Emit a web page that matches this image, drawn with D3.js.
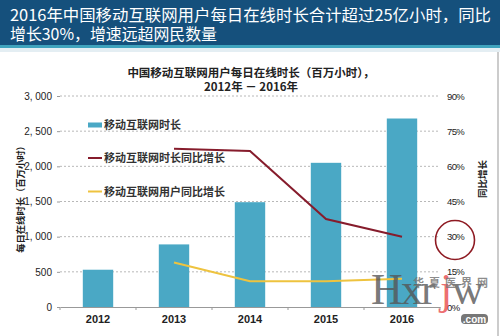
<!DOCTYPE html>
<html><head><meta charset="utf-8">
<script src="https://cdn.jsdelivr.net/npm/d3@7"></script>
<style>body{margin:0;background:#fff}svg{display:block}</style>
</head><body>
<script>
const years = ["2012","2013","2014","2015","2016"];
const hours = [530, 890, 1490, 2050, 2680];
const hoursGrowth = [null, 67.5, 66.5, 37.5, 30];
const usersGrowth = [null, 19, 11, 11, 12];
const leftTicks = [0, 500, 1000, 1500, 2000, 2500, 3000];
const rightTicks = [0, 15, 30, 45, 60, 75, 90];
const seriesNames = ["移动互联网时长", "移动互联网时长同比增长", "移动互联网用户同比增长"];
const headline = ["2016年中国移动互联网用户每日在线时长合计超过25亿小时，同比", "增长30%，增速远超网民数量"];
const chartTitle = ["中国移动互联网用户每日在线时长（百万小时），", "2012年 －  2016年"];

const W = 500, H = 336;
const cjk = "'Noto Sans CJK SC', 'Liberation Sans', sans-serif";
const lat = "'Liberation Sans', Arial, sans-serif";
const svg = d3.select("body").append("svg").attr("width", W).attr("height", H);

// header band
svg.append("rect").attr("x",0).attr("y",0).attr("width",W).attr("height",45).attr("fill","#15507c");
svg.append("rect").attr("x",0).attr("y",45).attr("width",W).attr("height",3).attr("fill","#3fa3bd");
svg.append("rect").attr("x",0).attr("y",48).attr("width",W).attr("height",4).attr("fill","#e4eef3");
svg.selectAll("text.hl").data(headline).join("text").attr("class","hl")
  .attr("x", 10).attr("y", (d,i)=>21 + i*19)
  .attr("fill","#fff").attr("font-family",cjk).attr("font-size",16)
  .attr("textLength",(d,i)=>i===0?481:207).attr("lengthAdjust","spacingAndGlyphs").text(d=>d);
svg.append("line").attr("x1",498).attr("x2",498).attr("y1",52).attr("y2",H).attr("stroke","#999");

const m = {l:60, r:440, t:96, b:307};
const x = d3.scaleBand().domain(years).range([m.l, m.r]).paddingInner(0.6).paddingOuter(0.3);
const y = d3.scaleLinear().domain([0,3000]).range([m.b, m.t]);
const y2 = d3.scaleLinear().domain([0,90]).range([m.b, m.t]);

// chart title
svg.selectAll("text.ct").data(chartTitle).join("text").attr("class","ct")
  .attr("x", 251).attr("y",(d,i)=>77 + i*14).attr("text-anchor","middle")
  .attr("font-family",cjk).attr("font-weight","bold").attr("font-size",11.5).attr("fill","#222").text(d=>d);

// gridlines
svg.append("g").selectAll("line").data(leftTicks.filter(d=>d>0)).join("line")
  .attr("x1",m.l).attr("x2",m.r).attr("y1",d=>y(d)).attr("y2",d=>y(d))
  .attr("stroke","#b8b8b8").attr("stroke-dasharray","2,2");

// left axis
const la = svg.append("g").attr("transform",`translate(${m.l},0)`)
  .call(d3.axisLeft(y).tickValues(leftTicks).tickSize(3).tickFormat(d=>d3.format(",")(d).replace(",", ", ")));
la.select(".domain").remove();
la.selectAll("line").attr("stroke","#999");
la.selectAll("text").attr("font-family",lat).attr("font-size",10).attr("fill","#222").attr("x",-8);

// right axis
const ra = svg.append("g").attr("transform",`translate(${m.r},0)`)
  .call(d3.axisRight(y2).tickValues(rightTicks).tickSize(0).tickFormat(d=>d+"%"));
ra.select(".domain").remove();
ra.selectAll("text").attr("font-family",lat).attr("font-size",9.5).attr("letter-spacing",-0.6).attr("fill","#222").attr("x",7);

// bars
svg.append("g").selectAll("rect").data(years).join("rect")
  .attr("x",d=>x(d)).attr("width",x.bandwidth())
  .attr("y",(d,i)=>y(hours[i])).attr("height",(d,i)=>y(0)-y(hours[i]))
  .attr("fill","#4aa8c5");

// x axis
const xa = svg.append("g").attr("transform",`translate(0,${m.b})`)
  .call(d3.axisBottom(x).tickSize(0).tickPadding(8));
xa.select(".domain").attr("stroke","#999");
xa.selectAll("text").attr("font-family",lat).attr("font-weight","bold").attr("font-size",11).attr("fill","#222");
const step = x.step();
svg.append("g").selectAll("line").data(d3.range(years.length+1)).join("line")
  .attr("x1",i=>m.l+i*step).attr("x2",i=>m.l+i*step).attr("y1",m.b).attr("y2",m.b+3).attr("stroke","#999");

// lines
const cx = d => x(d) + x.bandwidth()/2;
const lineGen = vals => d3.line().defined((d,i)=>vals[i]!=null).x(d=>cx(d)).y((d,i)=>y2(vals[i]))(years);
svg.append("path").attr("d",lineGen(usersGrowth)).attr("fill","none").attr("stroke","#eec33f").attr("stroke-width",2);
svg.append("path").attr("d",lineGen(hoursGrowth)).attr("fill","none").attr("stroke","#861c2c").attr("stroke-width",2);

// legend
const lg = svg.append("g");
lg.append("rect").attr("x",88).attr("y",122.5).attr("width",14).attr("height",5).attr("fill","#4aa8c5");
lg.append("line").attr("x1",88).attr("x2",102).attr("y1",158).attr("y2",158).attr("stroke","#861c2c").attr("stroke-width",2);
lg.append("line").attr("x1",88).attr("x2",102).attr("y1",191.5).attr("y2",191.5).attr("stroke","#eec33f").attr("stroke-width",2);
lg.selectAll("text").data(seriesNames).join("text")
  .attr("x",104).attr("y",(d,i)=>[129,162,196][i])
  .attr("font-family",cjk).attr("font-weight","bold").attr("font-size",11).attr("fill","#333").text(d=>d);

// axis titles
svg.append("text").attr("transform","translate(24,197) rotate(-90)").attr("text-anchor","middle")
  .attr("font-family",cjk).attr("font-weight","bold").attr("font-size",9.3).attr("fill","#222").text("每日在线时长（百万小时）");
svg.append("text").attr("transform","translate(486,179) rotate(-90)").attr("text-anchor","middle")
  .attr("font-family",cjk).attr("font-weight","bold").attr("font-size",9.5).attr("fill","#222").text("同比增长");

// highlight circle
svg.append("circle").attr("cx",455).attr("cy",240).attr("r",19.5).attr("fill","none").attr("stroke","#8e1a22").attr("stroke-width",1.6);

// watermark
const wm = svg.append("g").attr("font-family","'Liberation Serif', serif").attr("font-size",44);
const wmLetters = [["H",371,"#555"],["x",401,"#555"],["r",421,"#555"],["j",440,"#e8474a"],["w",452,"#555"]];
wm.selectAll("text.wl").data(wmLetters).join("text").attr("class","wl")
  .attr("x",d=>d[1]).attr("y",304).attr("fill",d=>d[2]).attr("fill-opacity",0.8).text(d=>d[0]);
wm.append("text").attr("x",413).attr("y",287).attr("font-family","'Noto Sans CJK SC', serif").attr("font-weight","bold").attr("font-size",11)
  .attr("textLength",75).attr("fill","#777").attr("fill-opacity",0.85).text("华夏医界网");
wm.append("rect").attr("x",461).attr("y",314).attr("width",27).attr("height",10).attr("rx",4).attr("fill","#777");
wm.append("text").attr("x",474.5).attr("y",322.5).attr("text-anchor","middle").attr("font-family",lat).attr("font-weight","bold").attr("font-size",10).attr("fill","#fff").text(".com");
</script>
</body></html>
